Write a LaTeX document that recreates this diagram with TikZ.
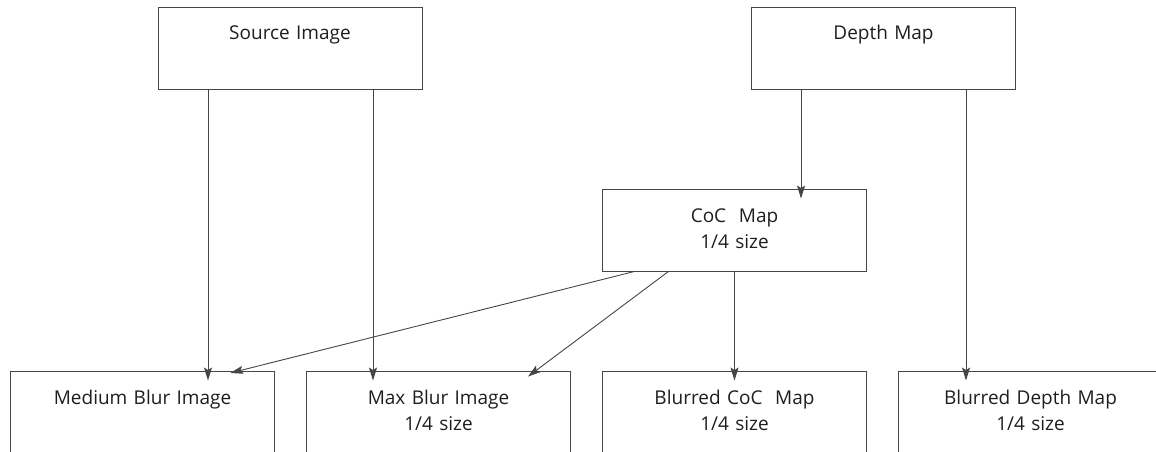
\documentclass[tikz,border=0pt]{standalone}
\usepackage{fontspec}
\setmainfont{Open Sans}
\usetikzlibrary{arrows.meta}

\definecolor{linegray}{HTML}{454545}
\definecolor{textgray}{HTML}{1e1e1e}

\begin{document}
\begin{tikzpicture}[x=1pt,y=1pt,>={Stealth[length=13pt,width=8pt,inset=2.5pt]},
                    shorten >=-10pt,node distance=296pt,line width=0.9pt,
                    box/.style={rectangle,draw=linegray,text=textgray,minimum width=264pt,
                      text width=250pt,align=center,inner xsep=0pt,inner ysep=0pt,
                      text height=33pt,text depth=49pt,
                      font=\fontsize{19}{26.5}\selectfont}]
  \useasboundingbox (0,0) rectangle (1156,451);
  \node[box] (src) at (290,403) {Source Image};
  \node[box] (dep) at (883.5,403) {Depth Map};
  \node[box] (med) at (142.5,39) {Medium Blur Image};
  \node[box] (max) [right of=med] {Max Blur Image\\1/4 size};
  \node[box] (bcoc) [right of=max] {Blurred CoC~~Map\\1/4 size};
  \node[box] (bdep) [right of=bcoc] {Blurred Depth Map\\1/4 size};
  \node[box] (coc) [above of=bcoc,node distance=182pt] {CoC~~Map\\1/4 size};
  \coordinate (s1) at ([xshift=-82pt]src.south);
  \coordinate (s2) at ([xshift=83pt]src.south);
  \coordinate (d1) at ([xshift=-82.5pt]dep.south);
  \coordinate (d2) at ([xshift=82.5pt]dep.south);
  \coordinate (c1) at ([xshift=-100pt]coc.south);
  \coordinate (c2) at ([xshift=-66pt]coc.south);
  \path[->,linegray]
    (s1) edge (s1 |- med.north)
    (s2) edge (s2 |- max.north)
    (d1) edge (d1 |- coc.north)
    (d2) edge (d2 |- bdep.north)
    (c1) edge ([xshift=97.5pt]med.north)
    (c2) edge ([xshift=97.5pt]max.north)
    (coc) edge (bcoc);
\end{tikzpicture}
\end{document}
